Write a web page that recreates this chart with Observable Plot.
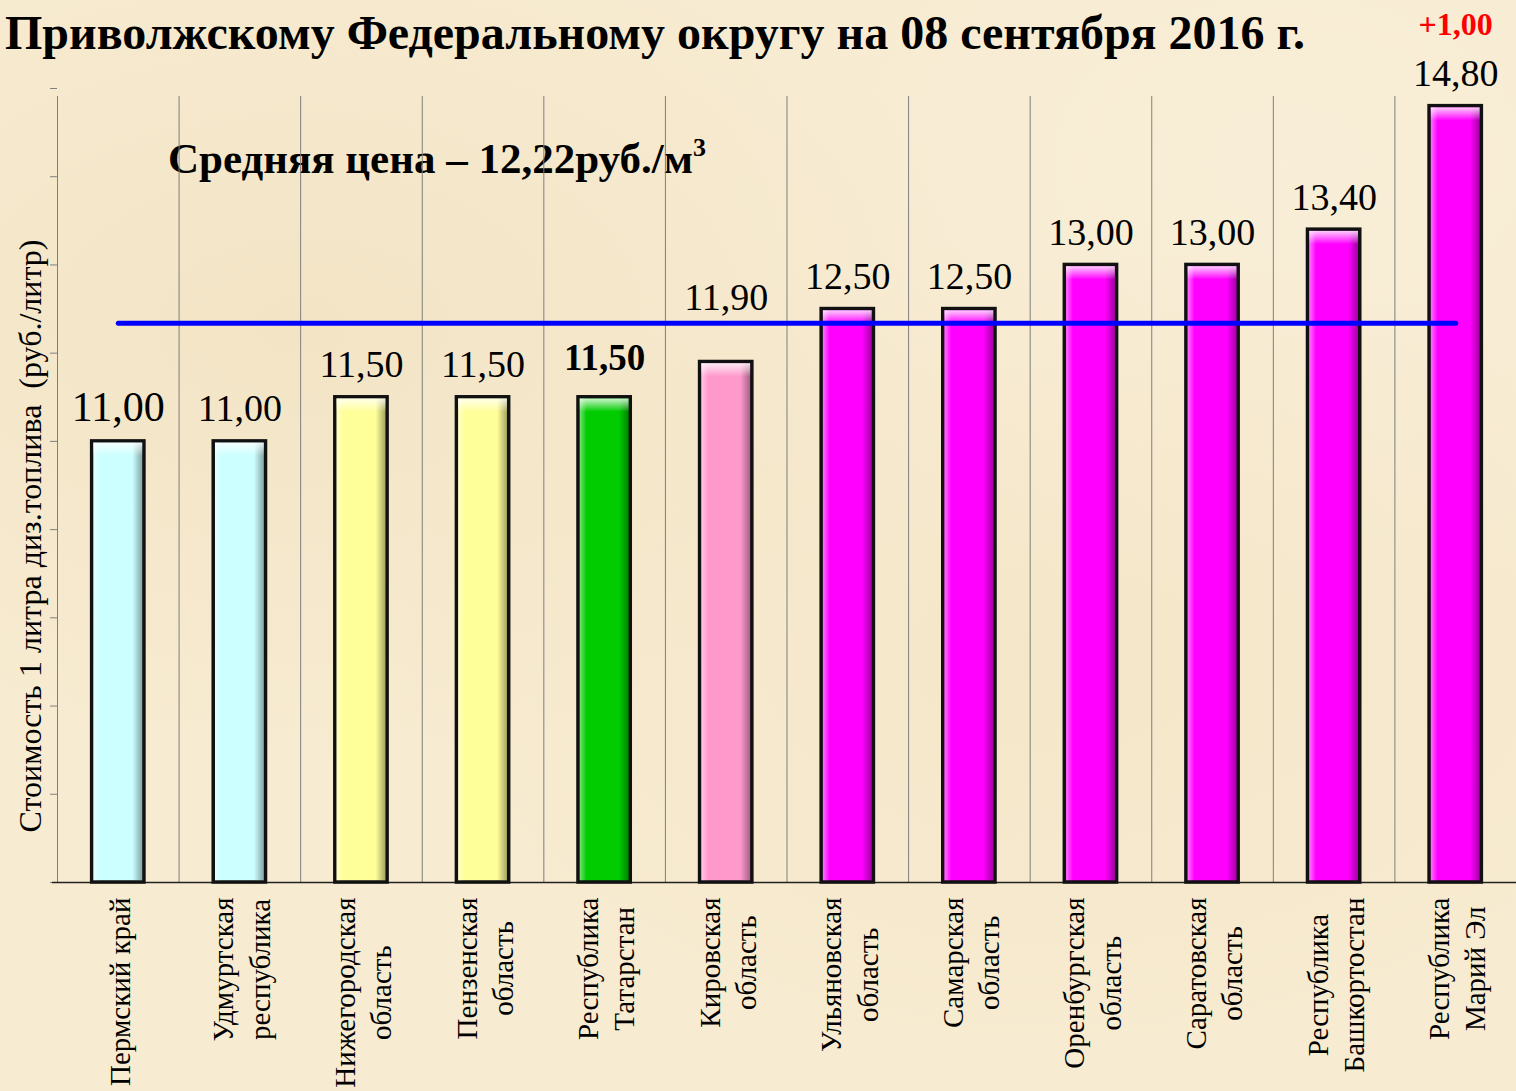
<!DOCTYPE html>
<html>
<head>
<meta charset="utf-8">
<script src="https://cdn.jsdelivr.net/npm/d3@7"></script>
<script src="https://cdn.jsdelivr.net/npm/@observablehq/plot@0.6"></script>
<style>
  html, body { margin: 0; padding: 0; }
  body { background: #f7ebd1; width: 1516px; height: 1091px; overflow: hidden; font-family: "Liberation Serif", "Times New Roman", serif; }
  #wrap { position: relative; width: 1516px; height: 1091px;
    background:
      radial-gradient(ellipse at 20% 30%, rgba(235,215,175,0.35), rgba(0,0,0,0) 40%),
      radial-gradient(ellipse at 70% 60%, rgba(240,222,185,0.35), rgba(0,0,0,0) 45%),
      radial-gradient(ellipse at 85% 15%, rgba(250,240,220,0.5), rgba(0,0,0,0) 35%),
      #f7ebd1; }
  #chart { position: absolute; left: 0; top: 0; }
  .title { position: absolute; left: 5px; top: 9px; line-height: 1; font-weight: bold; font-size: 48px; white-space: nowrap; color: #000; }
  .avg { position: absolute; left: 168px; top: 137px; line-height: 1; font-weight: bold; font-size: 43px; white-space: nowrap; color: #000; }
  .avg sup { font-size: 26px; position: relative; top: -2px; }
  .ylab { position: absolute; left: 30px; top: 536px; line-height: 1; transform: translate(-50%, -50%) rotate(-90deg); font-size: 32px; white-space: nowrap; color: #000; }
</style>
</head>
<body>
<div id="wrap">
  <div class="avg">Средняя цена – 12,22руб./м<sup>3</sup></div>
  <div id="chart"></div>
  <div class="title">Приволжскому Федеральному округу на 08 сентября 2016 г.</div>
  <div class="ylab">Стоимость 1 литра диз.топлива&nbsp;&nbsp;(руб./литр)</div>
</div>
<script>
// ---- data ----
const regions = [
  "Пермский край", "Удмуртская республика", "Нижегородская область", "Пензенская область",
  "Республика Татарстан", "Кировская область", "Ульяновская область", "Самарская область",
  "Оренбургская область", "Саратовская область", "Республика Башкортостан", "Республика Марий Эл"
];
const tickLabels = [
  "Пермский край", "Удмуртская\nреспублика", "Нижегородская\nобласть", "Пензенская\nобласть",
  "Республика\nТатарстан", "Кировская\nобласть", "Ульяновская\nобласть", "Самарская\nобласть",
  "Оренбургская\nобласть", "Саратовская\nобласть", "Республика\nБашкортостан", "Республика\nМарий Эл"
];
const prices = [11.00, 11.00, 11.50, 11.50, 11.50, 11.90, 12.50, 12.50, 13.00, 13.00, 13.40, 14.80];
const barColors = ["#ccffff", "#ccffff", "#ffff99", "#ffff99", "#00cc00", "#ff99cc",
                   "#ff00ff", "#ff00ff", "#ff00ff", "#ff00ff", "#ff00ff", "#ff00ff"];
const avgPrice = 12.22;           // stated average
const avgLineLevel = 12.34;       // level at which the blue line is drawn in the picture
const changeRegion = "Республика Марий Эл";
const changeText = "+1,00";
const yDomain = [6, 15];
const yTicks = [6, 7, 8, 9, 10, 11, 12, 13, 14, 15];

// ---- build ----
const data = regions.map((r, i) => ({region: r, price: prices[i], color: barColors[i]}));
const fmt = v => v.toFixed(2).replace(".", ",");
const W = 1516, H = 1091, mL = 57, mR = 0, mT = 88, mB = 209;
const step = (W - mL - mR) / regions.length;
const serif = "'Liberation Serif', 'Times New Roman', serif";
const boldIdx = 4;     // Татарстан label is bold
const raisedIdx = 5;   // Кировская label sits above the average line

const chart = Plot.plot({
  width: W, height: H,
  marginLeft: mL, marginRight: mR, marginTop: mT, marginBottom: mB,
  style: {fontFamily: serif, background: "transparent", color: "#000", overflow: "visible"},
  x: {domain: regions, paddingInner: 0.57, paddingOuter: 0.285, round: false, axis: null},
  y: {domain: yDomain, axis: null},
  marks: [
    // vertical separators between categories
    Plot.ruleX(regions, {x: d => d, dx: -step / 2, y1: yDomain[0], y2: yDomain[1], stroke: "#7f7f7f", strokeWidth: 1, insetBottom: -8}),
    // y-axis ticks
    Plot.axisY({ticks: yTicks, tickSize: 7, tickFormat: () => "", stroke: "#7f7f7f", label: null}),
    // x baseline
    Plot.ruleY([yDomain[0]], {stroke: "#222", strokeWidth: 1.5, insetLeft: -5}),
    // bars
    Plot.barY(data, {x: "region", y1: yDomain[0], y2: "price", fill: "color", stroke: "#111", strokeWidth: 3.5}),
    Plot.barY(data, {x: "region", y1: yDomain[0], y2: "price", fill: "url(#shadeH)", insetLeft: 1.75, insetRight: 1.75, insetBottom: 1.75, insetTop: 1.75}),
    Plot.barY(data, {x: "region", y1: "price", y2: "price", fill: "url(#shadeV)", insetLeft: 1.75, insetRight: 1.75, insetTop: 1.75, insetBottom: -15}),
    // average line
    Plot.lineY([regions[0], regions[regions.length - 1]], {x: d => d, y: () => avgLineLevel, stroke: "#0000ff", strokeWidth: 5}),
    // value labels
    Plot.text(data, {filter: (d, i) => i !== boldIdx && i !== raisedIdx, x: "region", y: "price", text: d => fmt(d.price), lineAnchor: "bottom", dy: -20,
      fontSize: (d, i) => (i === 0 ? 42 : 38), fill: "#000"}),
    Plot.text(data, {filter: (d, i) => i === raisedIdx, x: "region", y: "price", text: d => fmt(d.price), lineAnchor: "bottom", dy: -52,
      fontSize: 38, fill: "#000"}),
    Plot.text(data, {filter: (d, i) => i === boldIdx, x: "region", y: "price", text: d => fmt(d.price), lineAnchor: "bottom", dy: -27,
      fontSize: 37, fontWeight: "bold", fill: "#000"}),
    // change label
    Plot.text(data, {filter: d => d.region === changeRegion, x: "region", y: "price", text: () => changeText, lineAnchor: "bottom", dy: -71,
      fontSize: 32, fontWeight: "bold", fill: "#ff0000"}),
    // x-axis labels
    Plot.axisX({tickSize: 0, tickPadding: 15, rotate: -90, textAnchor: "middle", lineAnchor: "middle", fontSize: 29, lineHeight: 1.25,
      tickFormat: d => tickLabels[regions.indexOf(d)], label: null})
  ]
});

document.getElementById("chart").appendChild(chart);

// gradients for the bevelled bar look
const svg = d3.select(chart);
const defs = svg.insert("defs", ":first-child");
const gh = defs.append("linearGradient").attr("id", "shadeH").attr("x1", 0).attr("x2", 1).attr("y1", 0).attr("y2", 0);
gh.append("stop").attr("offset", "0").attr("stop-color", "#fff").attr("stop-opacity", 0.45);
gh.append("stop").attr("offset", "0.14").attr("stop-color", "#fff").attr("stop-opacity", 0.0);
gh.append("stop").attr("offset", "0.8").attr("stop-color", "#000").attr("stop-opacity", 0.0);
gh.append("stop").attr("offset", "1").attr("stop-color", "#000").attr("stop-opacity", 0.35);
const gv = defs.append("linearGradient").attr("id", "shadeV").attr("x1", 0).attr("x2", 0).attr("y1", 0).attr("y2", 1);
gv.append("stop").attr("offset", "0").attr("stop-color", "#fff").attr("stop-opacity", 0.8);
gv.append("stop").attr("offset", "1").attr("stop-color", "#fff").attr("stop-opacity", 0.0);

// push rotated tick labels so that the longest line starts just below the axis
svg.selectAll("g[aria-label='x-axis tick label'] text").each(function () {
  const w = this.getBBox().width;
  const t = this.getAttribute("transform") || "";
  this.setAttribute("transform", t + ` translate(${-w / 2},0)`);
});
</script>
</body>
</html>
